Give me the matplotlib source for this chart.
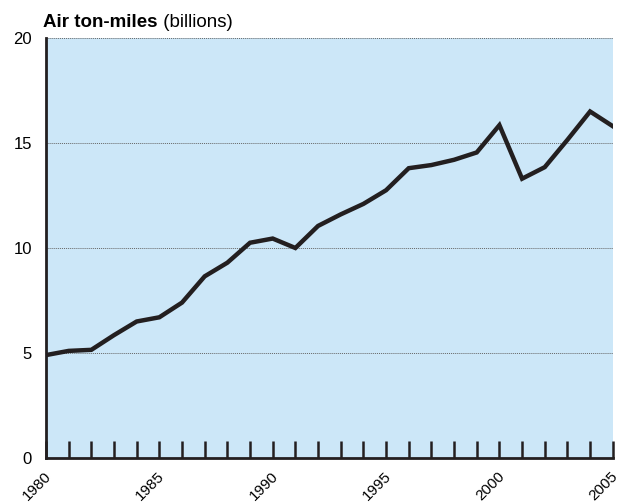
import matplotlib
matplotlib.use("Agg")
from matplotlib import pyplot as plt
from matplotlib.transforms import ScaledTranslation

years = list(range(1980, 2006))
ton_miles = [4.9, 5.1, 5.15, 5.85, 6.5, 6.7, 7.4, 8.65, 9.3, 10.25,
             10.45, 10.0, 11.05, 11.6, 12.1, 12.75, 13.8, 13.95, 14.2, 14.55,
             15.85, 13.3, 13.85, 15.15, 16.5, 15.8]
y_ticks = [0, 5, 10, 15, 20]
x_labels = [1980, 1985, 1990, 1995, 2000, 2005]

plt.rcParams['font.family'] = ['Liberation Sans', 'DejaVu Sans']

fig = plt.figure(figsize=(6.24, 5.04), dpi=100)
ax = fig.add_axes([0.0737, 0.0913, 0.9083, 0.8333])
ax.set_facecolor('#cce7f8')

ax.plot(years, ton_miles, color='#231f20', linewidth=3.2, solid_joinstyle='miter', zorder=3)

ax.set_xlim(1980, 2005)
ax.set_ylim(0, 20)

for v in y_ticks[1:]:
    ax.axhline(v, color='#666666', linestyle=(0, (1, 1)), linewidth=0.7, zorder=2)

ax.set_yticks(y_ticks)
ax.tick_params(axis='y', length=0, pad=10, labelsize=12)
ax.set_xticks(years)
ax.set_xticklabels([])
ax.tick_params(axis='x', direction='in', length=12, width=1.8, color='#231f20')

# year labels, rotated and nudged a bit right of their ticks
shift = ScaledTranslation(8 / 100, -11 / 100, fig.dpi_scale_trans)
for yr in x_labels:
    ax.text(yr, 0, str(yr), transform=ax.get_xaxis_transform() + shift,
            rotation=45, fontsize=11, ha='right', va='top', clip_on=False)

for side in ['top', 'right']:
    ax.spines[side].set_visible(False)
ax.spines['left'].set_linewidth(2)
ax.spines['bottom'].set_linewidth(2)
ax.spines['left'].set_color('#231f20')
ax.spines['bottom'].set_color('#231f20')

t1 = fig.text(0.069, 0.946, 'Air ton-miles', fontsize=13.5, fontweight='bold',
              ha='left', va='baseline')
ax.annotate(' (billions)', xy=(1, 0), xycoords=t1, fontsize=13.5,
            ha='left', va='bottom', annotation_clip=False)

fig.savefig("out.png", dpi=100)
